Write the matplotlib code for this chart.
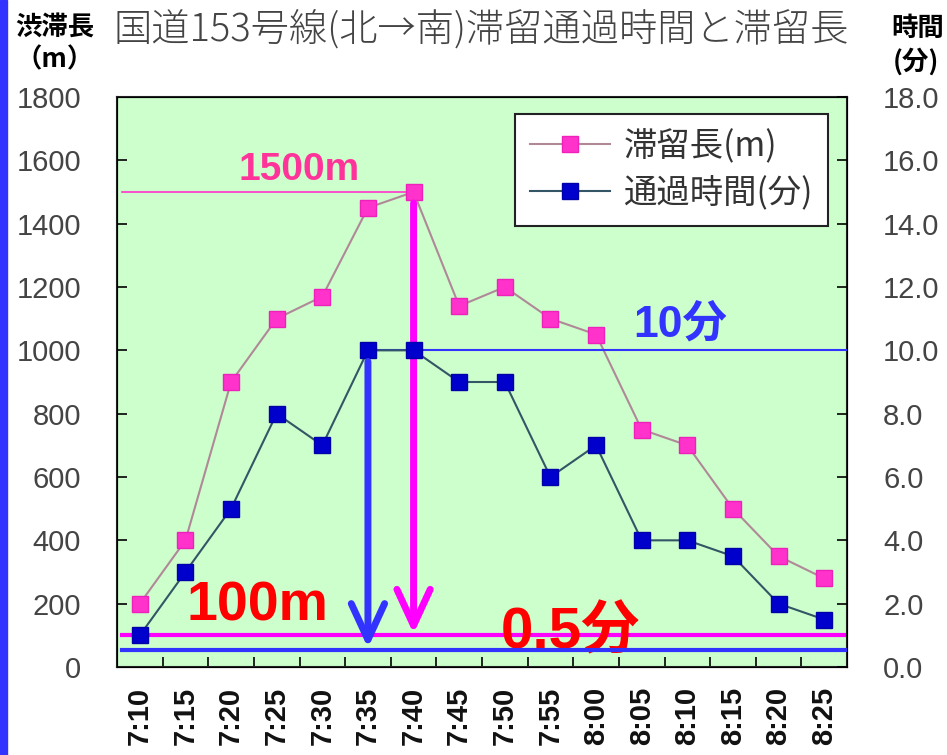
import matplotlib
matplotlib.use("Agg")
import matplotlib.pyplot as plt
from matplotlib.patches import Rectangle

plt.rcParams["font.family"] = ["Noto Sans CJK JP", "DejaVu Sans"]

times = ["7:10", "7:15", "7:20", "7:25", "7:30", "7:35", "7:40", "7:45",
         "7:50", "7:55", "8:00", "8:05", "8:10", "8:15", "8:20", "8:25"]
queue_len = [200, 400, 900, 1100, 1170, 1450, 1500, 1140,
             1200, 1100, 1050, 750, 700, 500, 350, 280]
pass_time = [1.0, 3.0, 5.0, 8.0, 7.0, 10.0, 10.0, 9.0,
             9.0, 6.0, 7.0, 4.0, 4.0, 3.5, 2.0, 1.5]
left_ticks = [0, 200, 400, 600, 800, 1000, 1200, 1400, 1600, 1800]
right_ticks = [0, 2, 4, 6, 8, 10, 12, 14, 16, 18]

fig = plt.figure(figsize=(9.47, 7.55), dpi=100)
fig.patch.set_facecolor("white")
fig.patches.append(Rectangle((0, 0), 7 / 947, 1, transform=fig.transFigure,
                             color="#3333ff", zorder=0))

ax = fig.add_axes([117 / 947, 88 / 755, 730 / 947, 570 / 755])
ax.set_facecolor("#ccffcc")
x = list(range(len(times)))

ax.plot(x, queue_len, color="#b08898", lw=1.5, marker="s", ms=11,
        mfc="#ff33cc", mec="#ee22bb", zorder=3, label="滞留長(m)")
ax.set_xlim(-0.5, len(times) - 0.5)
ax.set_ylim(0, 1800)
ax.set_yticks(left_ticks)
ax.set_yticklabels([str(v) for v in left_ticks], family="Liberation Sans",
                   fontsize=21, color="#444444")
ax.tick_params(axis="y", direction="in", length=7, width=1.2, pad=26)

ax.set_xticks(x)
ax.set_xticklabels(times, rotation=90, fontsize=21, fontweight="bold",
                   family="Liberation Sans", color="#111111")
ax.tick_params(axis="x", length=0, pad=14)
ax.set_xticks([i + 0.5 for i in x[:-1]], minor=True)
ax.tick_params(axis="x", which="minor", direction="in", length=7, width=1.2)
for s in ax.spines.values():
    s.set_linewidth(1.5)
    s.set_color("#222222")

ax2 = ax.twinx()
ax2.plot(x, pass_time, color="#335566", lw=1.5, marker="s", ms=11,
         mfc="#0000cc", mec="#0000aa", zorder=3, label="通過時間(分)")
ax2.set_ylim(0, 18)
ax2.set_yticks(right_ticks)
ax2.set_yticklabels([f"{v:.1f}" for v in right_ticks], family="Liberation Sans",
                    fontsize=21, color="#444444")
ax2.tick_params(axis="y", direction="in", length=7, width=1.2, pad=26)

# guide lines
ax.plot([-0.4, 6], [1500, 1500], color="#ff33cc", lw=1.2, zorder=2)
ax2.plot([5, 15.5], [10, 10], color="#3333ff", lw=1.5, zorder=2)
ax.plot([-0.4, 15.5], [100, 100], color="#ff00ff", lw=3, zorder=2)
ax2.plot([-0.4, 15.5], [0.55, 0.55], color="#3333ff", lw=3, zorder=2)

ax.annotate("", xy=(6, 105), xytext=(6, 1465),
            arrowprops=dict(arrowstyle="->,head_length=1.3,head_width=0.6",
                            color="#ff00ff", lw=5, mutation_scale=20,
                            shrinkA=0, shrinkB=0), zorder=4)
ax2.annotate("", xy=(5, 0.6), xytext=(5, 9.65),
             arrowprops=dict(arrowstyle="->,head_length=1.3,head_width=0.6",
                             color="#3333ff", lw=5, mutation_scale=20,
                             shrinkA=0, shrinkB=0), zorder=4)

fam = ["Liberation Sans", "Noto Sans CJK JP"]
ax.text(3.5, 1570, "1500m", color="#ff3399", fontsize=28, fontweight="bold",
        family=fam, ha="center", va="center", zorder=5)
ax.text(2.57, 190, "100m", color="#ff0000", fontsize=40, fontweight="bold",
        family=fam, ha="center", va="center", zorder=5)
ax.text(9.45, 107, "0.5分", color="#ff0000", fontsize=42, fontweight="bold",
        family=fam, ha="center", va="center", zorder=5)
ax.text(11.84, 1080, "10分", color="#3333ff", fontsize=32, fontweight="bold",
        family=fam, ha="center", va="center", zorder=5)

h1, l1 = ax.get_legend_handles_labels()
h2, l2 = ax2.get_legend_handles_labels()
leg = ax2.legend(h1 + h2, l1 + l2, loc="upper right",
                 bbox_to_anchor=(0.974, 0.970), borderaxespad=0,
                 fontsize=24, fancybox=False, framealpha=1,
                 edgecolor="#222222", handlelength=2.4, handletextpad=0.4,
                 labelcolor="#333333", borderpad=0.45, labelspacing=0.35)
leg.get_frame().set_linewidth(1.5)

fig.text(113 / 947, 1 - 30 / 755, "国道153号線(北→南)滞留通過時間と滞留長",
         fontsize=27.5, color="#444444", fontweight="light",
         va="center", ha="left")
fig.text(55 / 947, 1 - 28 / 755, "渋滞長", fontsize=19, fontweight="bold",
         ha="center", va="center")
fig.text(55 / 947, 1 - 60 / 755, "（m）", fontsize=19, fontweight="bold",
         ha="center", va="center")
fig.text(918 / 947, 1 - 28 / 755, "時間", fontsize=19, fontweight="bold",
         ha="center", va="center")
fig.text(916 / 947, 1 - 62 / 755, "(分)", fontsize=19, fontweight="bold",
         ha="center", va="center")

fig.savefig("out.png", dpi=100)
